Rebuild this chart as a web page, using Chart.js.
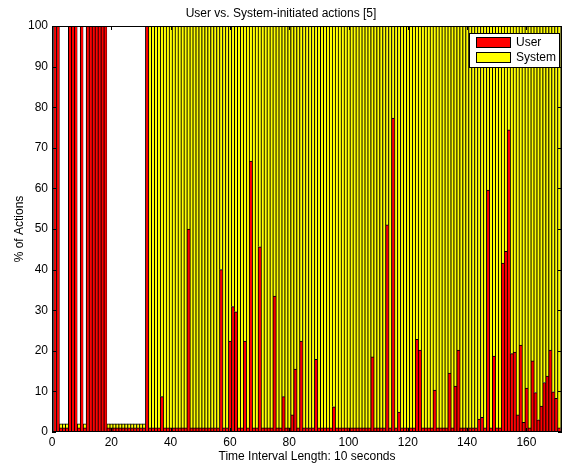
<!DOCTYPE html>
<html>
<head>
<meta charset="utf-8">
<title>User vs. System-initiated actions</title>
<script src="https://cdn.jsdelivr.net/npm/chart.js@4.4.0/dist/chart.umd.min.js"></script>
<style>
  html, body { margin: 0; padding: 0; background: #fff; }
</style>
</head>
<body>
<canvas id="actions-chart" width="565" height="470"></canvas>
<script>
// one bar per 10-second interval
const intervals = Array.from({ length: 171 }, (_, i) => i + 1);

// share of actions started by the user (%)
const userPct = [
  100, 100, 1, 1, 1, 100, 100, 100, 1, 100,
  1, 100, 100, 100, 100, 100, 100, 100, 1, 1,
  1, 1, 1, 1, 1, 1, 1, 1, 1, 1,
  1, 100, 1, 1, 1, 1, 8.7, 1, 1, 1,
  1, 1, 1, 1, 1, 50, 1, 1, 1, 1,
  1, 1, 1, 1, 1, 1, 40, 1, 1, 22.4,
  30.9, 29.6, 1, 1, 22.4, 1, 66.7, 1, 1, 45.6,
  1, 1, 1, 1, 33.5, 1, 1, 8.7, 1, 1,
  4.2, 15.5, 1, 22.4, 1, 1, 1, 1, 17.9, 1,
  1, 1, 1, 1, 6.2, 1, 1, 1, 1, 1,
  1, 1, 1, 1, 1, 1, 1, 18.5, 1, 1,
  1, 1, 51, 1, 77.3, 1, 4.9, 1, 1, 1,
  1, 1, 22.8, 20.2, 1, 1, 1, 1, 10.3, 1,
  1, 1, 1, 14.5, 1, 11.3, 20.2, 1, 1, 1,
  1, 1, 1, 3.2, 3.6, 1, 59.6, 1, 18.7, 1,
  1, 41.6, 44.5, 74.4, 19.3, 19.7, 4.2, 21.4, 2.4, 10.8,
  1, 17.5, 9.7, 3, 6.4, 12.2, 13.8, 20.2, 9.9, 8.3, 1
];

// share of actions started by the system (%)
const systemPct = [
  0, 0, 1, 1, 1, 0, 0, 0, 1, 0,
  1, 0, 0, 0, 0, 0, 0, 0, 1, 1,
  1, 1, 1, 1, 1, 1, 1, 1, 1, 1,
  1, 0, 99, 99, 99, 99, 91.3, 99, 99, 99,
  99, 99, 99, 99, 99, 50, 99, 99, 99, 99,
  99, 99, 99, 99, 99, 99, 60, 99, 99, 77.6,
  69.1, 70.4, 99, 99, 77.6, 99, 33.3, 99, 99, 54.4,
  99, 99, 99, 99, 66.5, 99, 99, 91.3, 99, 99,
  95.8, 84.5, 99, 77.6, 99, 99, 99, 99, 82.1, 99,
  99, 99, 99, 99, 93.8, 99, 99, 99, 99, 99,
  99, 99, 99, 99, 99, 99, 99, 81.5, 99, 99,
  99, 99, 49, 99, 22.7, 99, 95.1, 99, 99, 99,
  99, 99, 77.2, 79.8, 99, 99, 99, 99, 89.7, 99,
  99, 99, 99, 85.5, 99, 88.7, 79.8, 99, 99, 99,
  99, 99, 99, 96.8, 96.4, 99, 40.4, 99, 81.3, 99,
  99, 58.4, 55.5, 25.6, 80.7, 80.3, 95.8, 78.6, 97.6, 89.2,
  99, 82.5, 90.3, 97, 93.6, 87.8, 86.2, 79.8, 90.1, 91.7, 99
];

const FONT = 'Liberation Sans, Arial, Helvetica, sans-serif';
Chart.defaults.font.family = FONT;
Chart.defaults.font.size = 12;
Chart.defaults.color = '#000';

// bar edges: heavier on the left so the thin bars keep a dark outline
const EDGE = { left: 1, right: 0.5, top: 1, bottom: 0 };

// box around the plot plus inward ticks on all four sides
const axesBox = {
  id: 'axesBox',
  afterDatasetsDraw(chart) {
    const { ctx, chartArea: { left, right, top, bottom }, scales: { x, y } } = chart;
    const len = 4;
    ctx.save();
    ctx.strokeStyle = '#000';
    ctx.lineWidth = 1;
    ctx.beginPath();
    x.ticks.forEach(t => {
      const px = Math.round(x.getPixelForValue(t.value)) + 0.5;
      ctx.moveTo(px, bottom); ctx.lineTo(px, bottom - len);
      ctx.moveTo(px, top); ctx.lineTo(px, top + len);
    });
    y.ticks.forEach(t => {
      const py = Math.round(y.getPixelForValue(t.value)) + 0.5;
      ctx.moveTo(left, py); ctx.lineTo(left + len, py);
      ctx.moveTo(right, py); ctx.lineTo(right - len, py);
    });
    ctx.stroke();
    ctx.strokeRect(Math.round(left) + 0.5, Math.round(top) + 0.5,
      Math.round(right - left) - 1, Math.round(bottom - top) - 1);
    ctx.restore();
  }
};

// legend box in the top right corner of the plot
const boxLegend = {
  id: 'boxLegend',
  afterDraw(chart) {
    const { ctx, chartArea } = chart;
    const w = 90, h = 34;
    const x0 = Math.round(chartArea.right) - 3 - w;
    const y0 = Math.round(chartArea.top) + 7;
    ctx.save();
    ctx.fillStyle = '#fff';
    ctx.fillRect(x0, y0, w, h);
    ctx.strokeStyle = '#000';
    ctx.lineWidth = 1;
    ctx.strokeRect(x0 + 0.5, y0 + 0.5, w, h);
    ctx.font = '12px ' + FONT;
    ctx.textBaseline = 'middle';
    chart.data.datasets.forEach((ds, i) => {
      const sy = y0 + 4 + i * 15;
      ctx.fillStyle = ds.backgroundColor;
      ctx.fillRect(x0 + 7, sy, 35, 11);
      ctx.strokeRect(x0 + 7.5, sy + 0.5, 34, 10);
      ctx.fillStyle = '#000';
      ctx.fillText(ds.label, x0 + 47, sy + 6);
    });
    ctx.restore();
  }
};

const ctx = document.getElementById('actions-chart').getContext('2d');
const actionsChart = new Chart(ctx, {
  type: 'bar',
  data: {
    labels: intervals,
    datasets: [
      {
        label: 'User',
        data: userPct,
        backgroundColor: '#ff0000',
        borderColor: '#000',
        borderWidth: EDGE,
        borderSkipped: false
      },
      {
        label: 'System',
        data: systemPct.map(v => v || null),
        backgroundColor: '#ffff00',
        borderColor: '#000',
        borderWidth: EDGE,
        borderSkipped: false
      }
    ]
  },
  options: {
    responsive: false,
    animation: false,
    barPercentage: 1,
    categoryPercentage: 1,
    layout: { padding: { left: 0, right: 3, top: 0, bottom: 0 } },
    scales: {
      x: {
        type: 'linear',
        stacked: true,
        offset: false,
        min: 0,
        max: 172,
        grid: { display: false, drawTicks: false },
        border: { display: false },
        ticks: { stepSize: 20, includeBounds: false, padding: 3, maxRotation: 0 },
        title: { display: true, text: 'Time Interval Length: 10 seconds', padding: { top: 0, bottom: 6 } },
        afterFit: s => { s.height = 38; }
      },
      y: {
        stacked: true,
        min: 0,
        max: 100,
        grid: { display: false, drawTicks: false },
        border: { display: false },
        ticks: { stepSize: 10, padding: 4 },
        title: { display: true, text: '% of Actions', padding: { top: 12, bottom: 0 } },
        afterFit: s => { s.width = 52; }
      }
    },
    plugins: {
      legend: { display: false },
      tooltip: { enabled: false },
      title: {
        display: true,
        text: 'User vs. System-initiated actions [5]',
        font: { size: 12, weight: 'normal' },
        padding: { top: 6, bottom: 5.6 }
      }
    }
  },
  plugins: [axesBox, boxLegend]
});
</script>
</body>
</html>
